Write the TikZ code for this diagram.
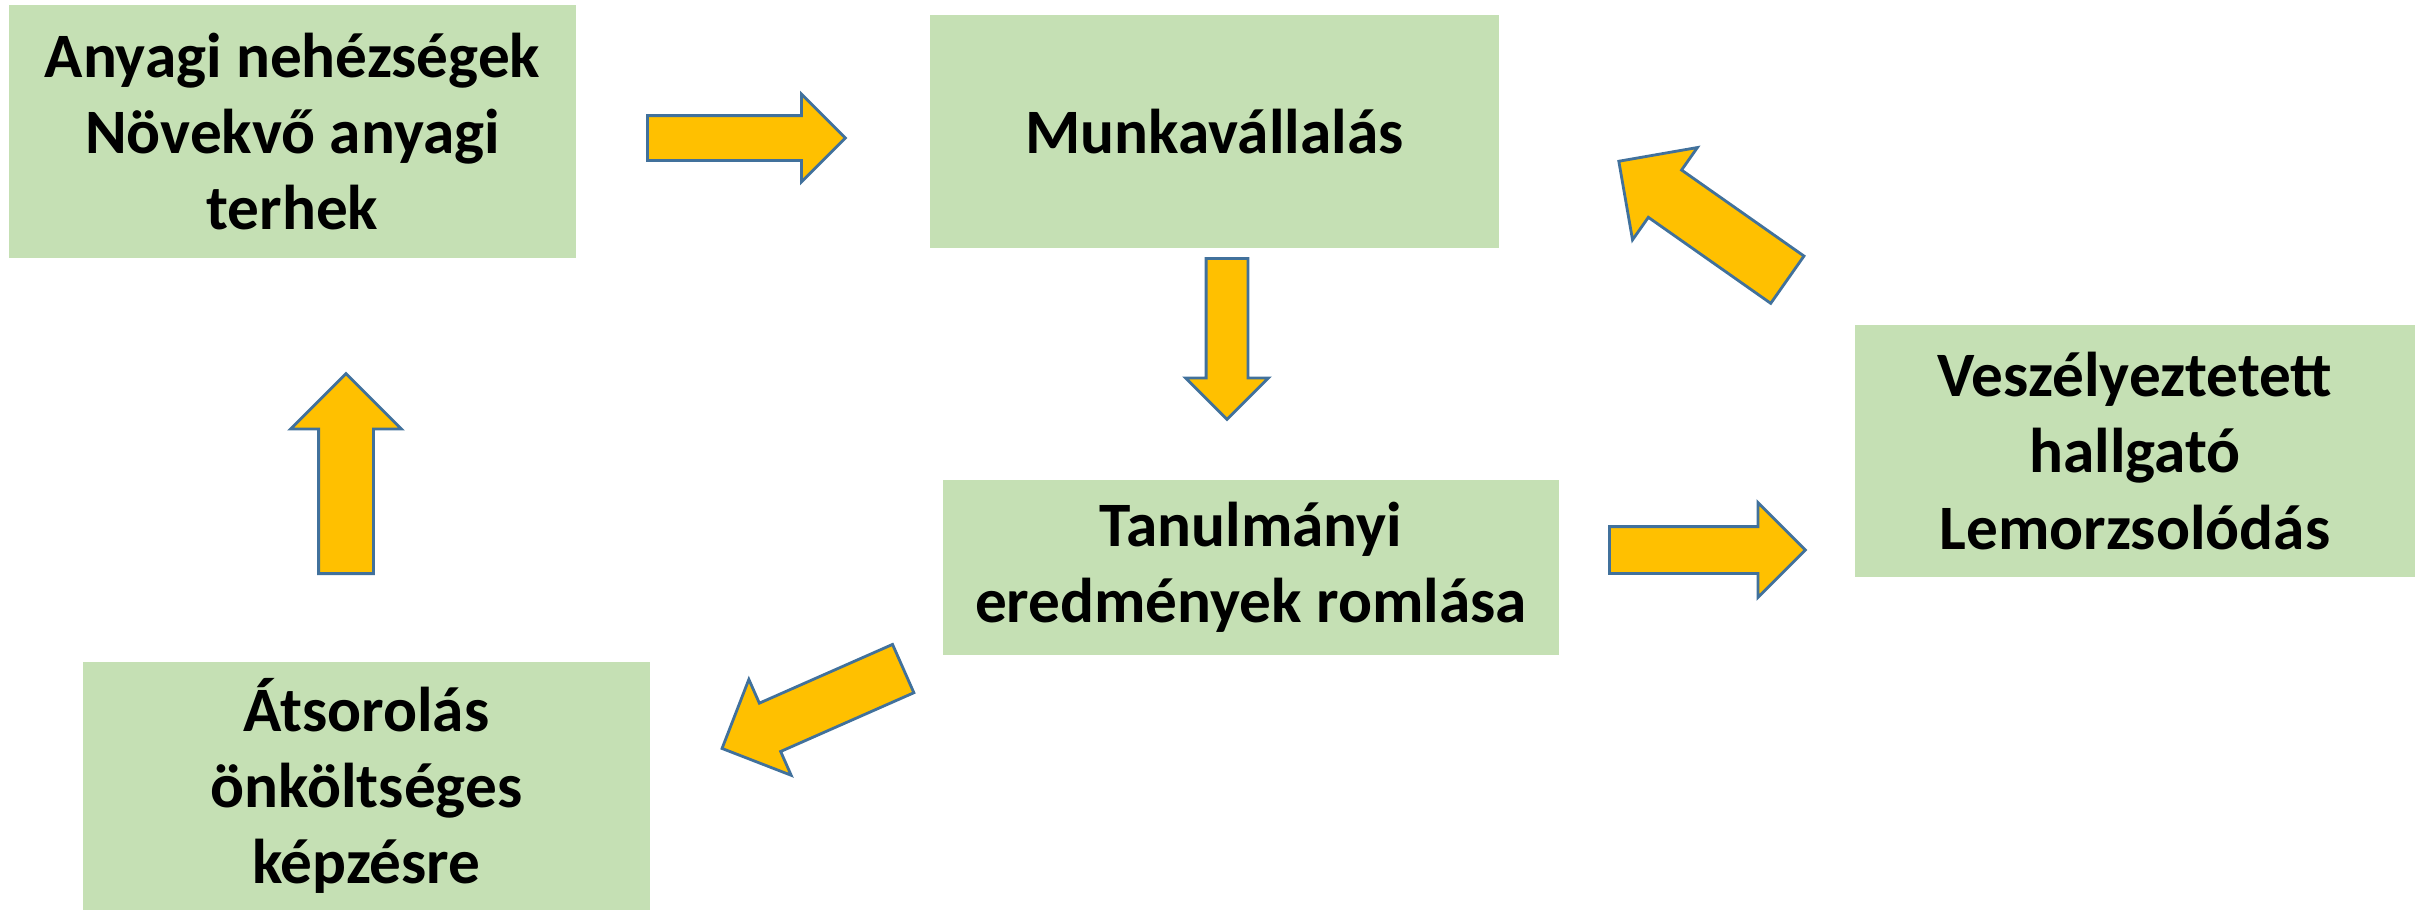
\documentclass[tikz,border=0pt]{standalone}
\usepackage{fontspec}
\setmainfont{Carlito}
\usetikzlibrary{positioning, shapes.arrows}
\definecolor{boxgreen}{HTML}{C5E0B4}
\definecolor{arrowfill}{HTML}{FFC000}
\definecolor{arrowline}{HTML}{41719C}

\begin{document}
\begin{tikzpicture}[
    box/.style={fill=boxgreen, align=center, inner sep=0pt, font=\bfseries\fontsize{18}{21.7}\selectfont},
    blockarr/.style={single arrow, draw=arrowline, fill=arrowfill, line width=0.8pt, inner xsep=0pt, anchor=tail, minimum height=#1}
]
\useasboundingbox (0,0) rectangle (24.15,9.11);

% Dobozok
\node[box, minimum width=5.67cm, minimum height=2.53cm] (anyagi) at (2.925, 7.795) {Anyagi nehézségek\\Növekvő anyagi\\terhek};
\node[box, minimum width=5.69cm, minimum height=2.33cm] (munka) at (12.145, 7.795) {Munkavállalás};
\node[box, minimum width=5.60cm, minimum height=2.52cm] (veszely) at (21.35, 4.60) {Veszélyeztetett\\hallgató\\Lemorzsolódás};
\node[box, minimum width=6.16cm, minimum height=1.75cm] (tanul) at (12.51, 3.435) {Tanulmányi\\eredmények romlása};
\node[box, minimum width=5.67cm, minimum height=2.48cm] (atsor) at (3.665, 1.25) {Átsorolás\\önköltséges\\képzésre};

% Nyilak a dobozok kozott
\node[blockarr=1.98cm, inner ysep=0.21cm, single arrow head extend=0.215cm] (ny1) at (6.46, 7.73) {};
\node[blockarr=1.61cm, inner ysep=0.195cm, single arrow head extend=0.205cm, rotate=-90] (ny2) at (12.27, 6.54) {};
\node[blockarr=2.06cm, inner ysep=0.275cm, single arrow head extend=0.275cm, rotate=144.9] (ny3) at (17.885, 6.305) {};
\node[blockarr=1.96cm, inner ysep=0.22cm, single arrow head extend=0.24cm] (ny4) at (16.08, 3.61) {};
\node[blockarr=1.98cm, inner ysep=0.25cm, single arrow head extend=0.26cm, rotate=203.8] (ny5) at (9.045, 2.43) {};
\node[blockarr=2.00cm, inner ysep=0.26cm, single arrow head extend=0.28cm, rotate=90] (ny6) at (3.46, 3.36) {};

\end{tikzpicture}
\end{document}
